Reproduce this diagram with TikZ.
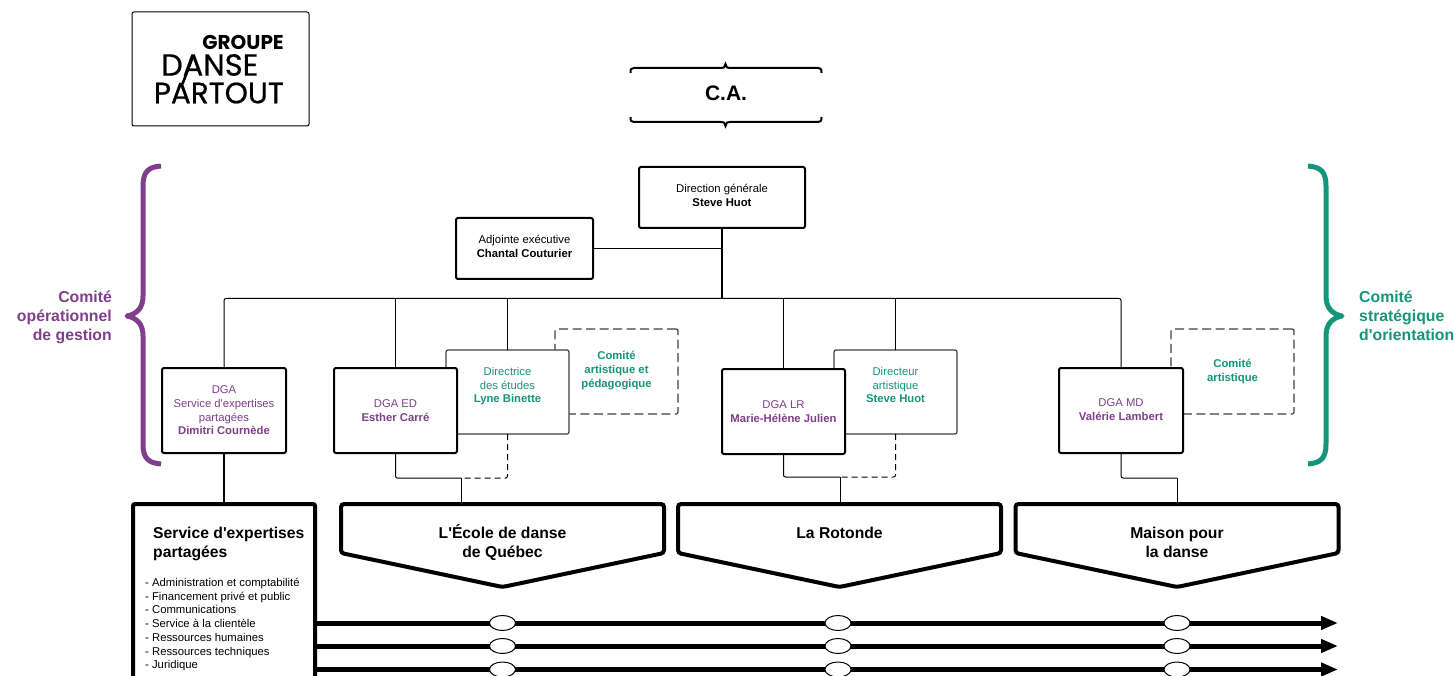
\documentclass[tikz,border=0pt]{standalone}
\usepackage{fontspec}
\setmainfont{Liberation Sans}
\newfontfamily\logofont[FakeBold=0.6]{Poppins}
\newfontfamily\logobold{Poppins}
\usetikzlibrary{positioning,arrows.meta,shapes.geometric}
\definecolor{plum}{HTML}{7F3F8A}
\definecolor{teal}{HTML}{15967A}
\tikzset{
    small/.style={font=\fontsize{11.3}{13.7}\selectfont,align=center},
    title/.style={font=\bfseries\fontsize{15.7}{19}\selectfont},
    side/.style={font=\bfseries\fontsize{15.8}{19}\selectfont},
    heavybox/.style={small,draw,line width=2pt,rounded corners=2pt,fill=white,outer sep=0pt,inner sep=0pt},
    lightbox/.style={small,draw=black!75,line width=1.2pt,rounded corners=2pt,fill=white,outer sep=0pt,inner sep=0pt,text=teal},
    dashbox/.style={lightbox,dash pattern=on 9pt off 4.5pt,font=\bfseries\fontsize{11.3}{13.7}\selectfont},
    link/.style={line width=1pt,rounded corners=2pt},
    dashlink/.style={link,dash pattern=on 6pt off 4pt},
    brace/.style={line width=5pt,line join=round},
    banner/.style={line width=4pt,rounded corners=3pt,fill=white},
    flow/.style={line width=5pt,-{Triangle[length=17pt,width=13pt]}},
    hub/.style={ellipse,draw,line width=1pt,fill=white,minimum width=26pt,minimum height=15pt,inner sep=0pt}
}
\begin{document}
\begin{tikzpicture}[x=1pt,y=-1pt]
    \useasboundingbox (0,0) rectangle (1456,676);
    % logo
    \node[draw,line width=1pt,rounded corners=2pt,minimum width=177pt,minimum height=114pt,outer sep=0pt] (logo) at (220.5,69) {};
    \node[font=\logobold\bfseries\fontsize{20}{20}\selectfont,anchor=east,inner sep=0pt] (groupe) at (284,42) {GROUPE};
    \node[font=\logofont\fontsize{30.5}{30}\selectfont,anchor=west,inner sep=0pt] (danse) at (161,65) {DANSE};
    \node[font=\logofont\fontsize{29.5}{30}\selectfont,anchor=east,inner sep=0pt] (partout) at (284,93) {PARTOUT};
    \draw[line width=2.6pt] (182.5,84) -- (193.5,55);
    % C.A.
    \node[font=\bfseries\fontsize{21}{24}\selectfont,inner sep=0pt] (ca) at (726,93) {C.A.};
    \draw[line width=2pt] (630.5,73) .. controls (630.5,69) .. (634,68) -- (721,68)
        .. controls (724,68) .. (725.5,64) .. controls (727,68) .. (730,68) -- (818,68)
        .. controls (821.5,69) .. (821.5,73);
    \draw[line width=2pt] (630.5,117) .. controls (630.5,121) .. (634,122) -- (721,122)
        .. controls (724,122) .. (725.5,126) .. controls (727,122) .. (730,122) -- (818,122)
        .. controls (821.5,121) .. (821.5,117);
    % braces
    \draw[plum,brace] (161,166) .. controls (148,167) and (143,172) .. (143,186) -- (143,296)
        .. controls (143,308) and (137,314) .. (127,316) .. controls (137,318) and (143,324) .. (143,336)
        -- (143,444) .. controls (143,458) and (148,463) .. (161,464);
    \draw[teal,brace] (1308,166) .. controls (1321,167) and (1326,172) .. (1326,186) -- (1326,296)
        .. controls (1326,308) and (1332,314) .. (1342,316) .. controls (1332,318) and (1326,324) .. (1326,336)
        -- (1326,444) .. controls (1326,458) and (1321,463) .. (1308,464);
    \node[side,plum,align=right,anchor=east,inner sep=0pt] (gestion) at (112,317) {Comité\\opérationnel\\de gestion};
    \node[side,teal,align=left,anchor=west,inner sep=0pt] (orientation) at (1359,316) {Comité\\stratégique\\d\textquotesingle orientation};
    % comites
    \node[dashbox,minimum width=123pt,minimum height=85pt] (cap) at (616.5,371.5) {Comité\\artistique et\\pédagogique\\[-9.7pt]};
    \node[dashbox,minimum width=123pt,minimum height=85pt] (cart) at (1232.5,371.5) {Comité\\artistique};
    % direction
    \node[heavybox,minimum width=166pt,minimum height=61pt] (dg) at (722,197.5) {Direction générale\\\textbf{Steve Huot}\\[-9.7pt]};
    \node[heavybox,minimum width=137pt,minimum height=61pt] (adj) at (524.5,248.5) {Adjointe exécutive\\\textbf{Chantal Couturier}\\[-9.7pt]};
    \coordinate (bus) at (722,298.5);
    \draw[link] (adj.east) -- (adj.east -| dg);
    \draw[line width=2pt] (dg.south) -- (bus);
    % second line
    \node[lightbox,minimum width=123pt,minimum height=84pt] (etudes) at (507.5,392) {Directrice\\des études\\\textbf{Lyne Binette}\\~};
    \node[lightbox,minimum width=123pt,minimum height=84pt] (artdir) at (895.5,392) {Directeur\\artistique\\\textbf{Steve Huot}\\~};
    \node[heavybox,text=plum,minimum width=124pt,minimum height=85pt] (dgaserv) at (224,410.5) {DGA\\Service d\textquotesingle expertises\\partagées\\\textbf{Dimitri Cournède}};
    \node[heavybox,text=plum,minimum width=123pt,minimum height=85pt] (dgaed) at (395.5,410.5) {DGA ED\\\textbf{Esther Carré}};
    \node[heavybox,text=plum,minimum width=123pt,minimum height=85pt] (dgalr) at (783.5,411.5) {DGA LR\\\textbf{Marie-Hélène Julien}};
    \node[heavybox,text=plum,minimum width=124pt,minimum height=85pt] (dgamd) at (1121,410.5) {DGA MD\\\textbf{Valérie Lambert}\\[-11.7pt]};
    \draw[link] (dgaserv.north) |- (bus) -| (dgamd.north);
    \foreach \x in {dgaed,etudes,dgalr,artdir}
        \draw[link] (bus -| \x) -- (\x.north);
    % banners
    \coordinate (joined) at (461,478);
    \coordinate (joinlr) at (840,477);
    \coordinate (joinmd) at (1177,478);
    \draw[link] (dgaed.south) |- (joined);
    \draw[dashlink] (etudes.south) |- (joined);
    \draw[link] (dgalr.south) |- (joinlr);
    \draw[dashlink] (artdir.south) |- (joinlr);
    \draw[link] (dgamd.south) |- (joinmd);
    \draw[link] (joined) -- ++(0,26);
    \draw[link] (joinlr) -- ++(0,27);
    \draw[link] (joinmd) -- ++(0,26);
    \draw[line width=2pt] (dgaserv.south) -- ++(0,51);
    \foreach \name/\cx/\cy/\txt in {ecole/502.5/542.5/L\textquotesingle École de danse\\de Québec,rotonde/839.5/533/La Rotonde,maison/1177/542.5/Maison pour\\la danse} {
        \draw[banner] (\cx-161.5,504) -- (\cx+161.5,504) -- (\cx+161.5,553) -- (\cx,587) -- (\cx-161.5,553) -- cycle;
        \node[title,align=center,inner sep=0pt] (\name) at (\cx,\cy) {\txt};
    }
    % flows
    \coordinate (enda) at (1338,623);
    \coordinate (endb) at (1338,646);
    \coordinate (endc) at (1338,669.5);
    \node[draw,line width=4pt,rounded corners=2pt,minimum width=182pt,minimum height=176pt,outer sep=0pt] (serv) at (224,592) {};
    \foreach \r in {a,b,c} {
        \draw[flow] (serv.east |- end\r) -- (end\r);
        \node[hub] (hub\r1) at (502.5,0 |- end\r) {};
        \node[hub] (hub\r2) at (838,0 |- end\r) {};
        \node[hub] (hub\r3) at (1177,0 |- end\r) {};
    }
    \node[title,align=left,anchor=north west,inner sep=0pt] (servtitle) at (153,527) {Service d\textquotesingle expertises\\partagées};
    \node[small,align=left,anchor=north west,inner sep=0pt] (servlist) at (145,578) {- Administration et comptabilité\\- Financement privé et public\\- Communications\\- Service à la clientèle\\- Ressources humaines\\- Ressources techniques\\- Juridique};
\end{tikzpicture}
\end{document}
